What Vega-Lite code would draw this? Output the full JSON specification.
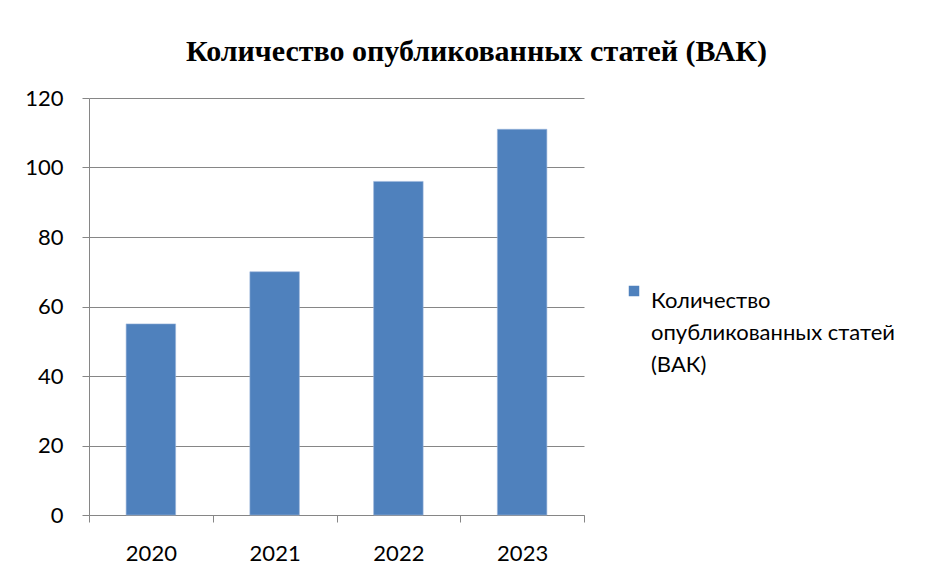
{
  "$schema": "https://vega.github.io/schema/vega-lite/v6.json",
  "width": 495,
  "height": 417,
  "autosize": {"type": "none"},
  "padding": {"left": 89, "top": 98, "right": 349, "bottom": 58},
  "background": "white",
  "title": {
    "text": "Количество опубликованных статей (ВАК)",
    "font": "Liberation Serif",
    "fontSize": 30,
    "fontWeight": "bold",
    "color": "#000000",
    "anchor": "middle",
    "dx": 140,
    "offset": 20
  },
  "data": {
    "values": [
      {"year": "2020", "value": 55, "series": "Количество опубликованных статей (ВАК)"},
      {"year": "2021", "value": 70, "series": "Количество опубликованных статей (ВАК)"},
      {"year": "2022", "value": 96, "series": "Количество опубликованных статей (ВАК)"},
      {"year": "2023", "value": 111, "series": "Количество опубликованных статей (ВАК)"}
    ]
  },
  "mark": {"type": "bar", "stroke": "#9ab5dc", "strokeWidth": 0.6, "width": {"band": 0.4}},
  "encoding": {
    "x": {
      "field": "year",
      "type": "nominal",
      "scale": {"paddingInner": 0, "paddingOuter": 0},
      "axis": {
        "title": null,
        "labelAngle": 0,
        "labelFont": "Lato",
        "labelFontSize": 22,
        "labelColor": "#000000",
        "labelPadding": 21,
        "tickBand": "extent",
        "tickSize": 7,
        "tickColor": "#868686",
        "domainColor": "#868686",
        "grid": false
      }
    },
    "y": {
      "field": "value",
      "type": "quantitative",
      "scale": {"domain": [0, 120]},
      "axis": {
        "title": null,
        "values": [0, 20, 40, 60, 80, 100, 120],
        "labelFont": "Lato",
        "labelFontSize": 22,
        "labelColor": "#000000",
        "labelPadding": 19,
        "tickSize": 7,
        "tickColor": "#868686",
        "domainColor": "#868686",
        "gridColor": "#868686",
        "gridOpacity": 1,
        "gridWidth": 1
      }
    },
    "color": {
      "field": "series",
      "type": "nominal",
      "scale": {"range": ["#4f81bd"]},
      "legend": {
        "title": null,
        "orient": "none",
        "legendX": 534,
        "legendY": 182,
        "symbolType": "square",
        "symbolSize": 110,
        "symbolStrokeWidth": 0,
        "labelFont": "Lato",
        "labelFontSize": 22,
        "labelColor": "#000000",
        "labelLimit": 400,
        "labelOffset": 6,
        "labelExpr": "['Количество', 'опубликованных статей', '(ВАК)']",
        "labelBaseline": "top"
      }
    }
  },
  "config": {
    "view": {"stroke": null},
    "style": {"guide-label": {"lineHeight": 32}}
  }
}
